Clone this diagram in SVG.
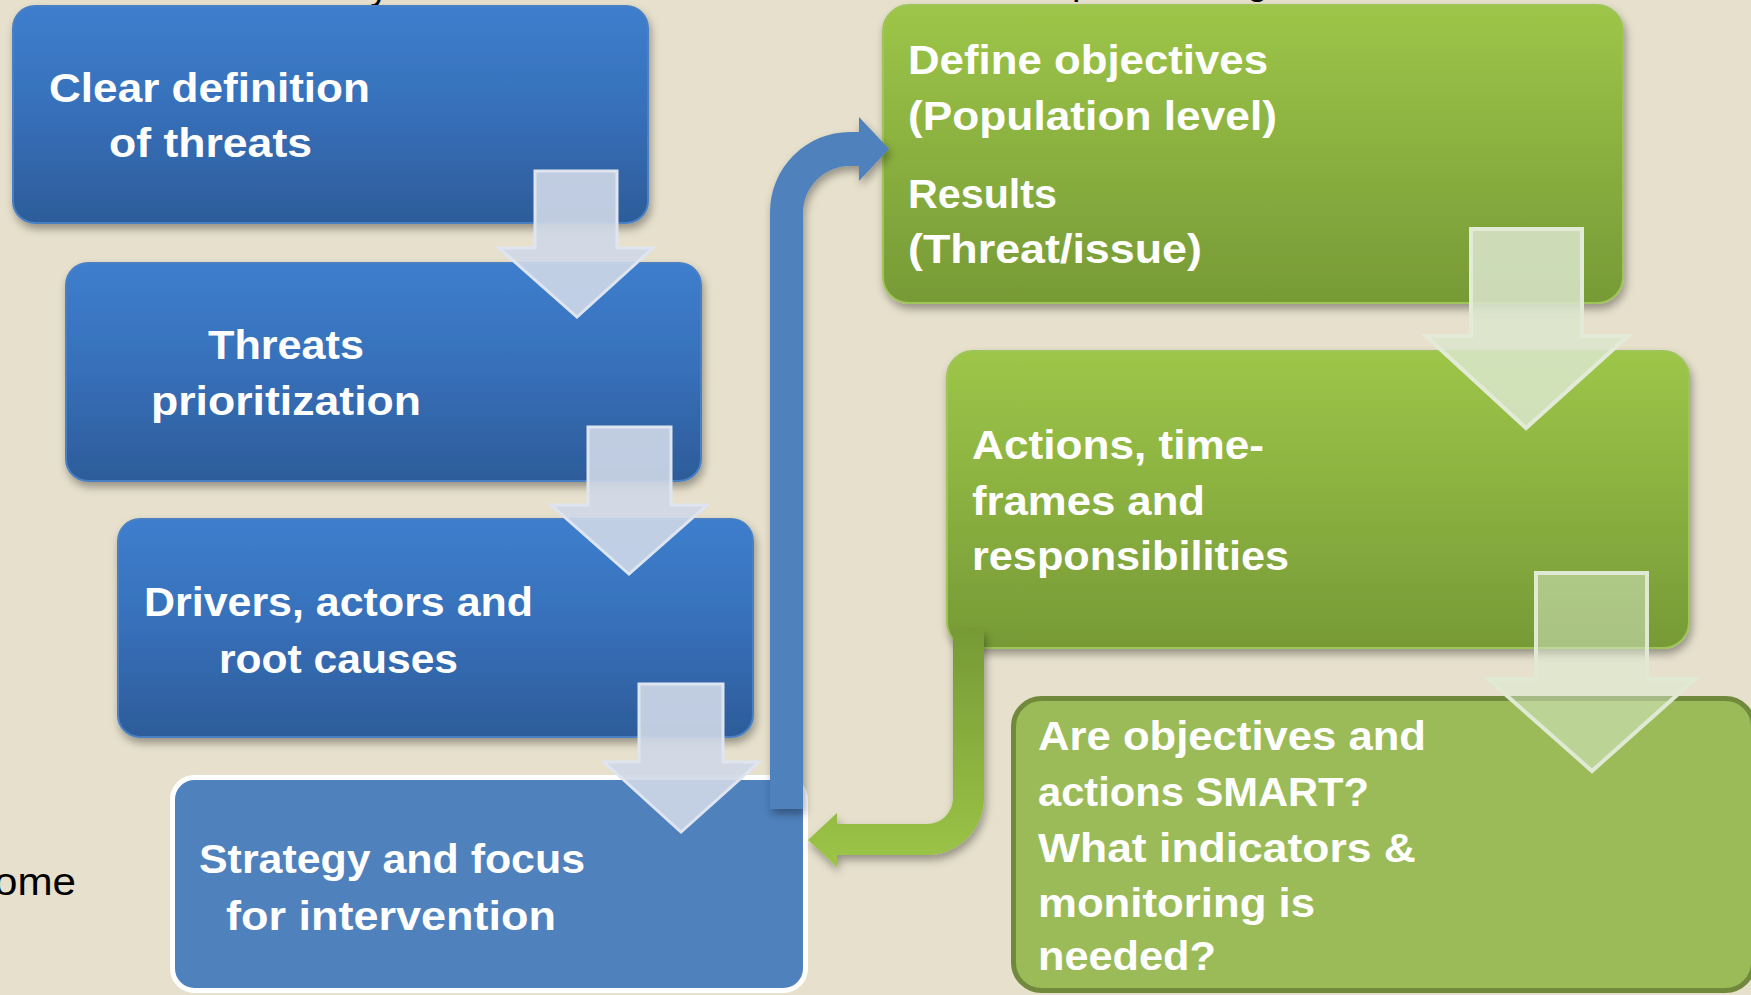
<svg xmlns="http://www.w3.org/2000/svg" width="1751" height="995" viewBox="0 0 1751 995">
<defs>
<linearGradient id="gBlue" x1="0" y1="0" x2="0" y2="1">
<stop offset="0" stop-color="#3d7ecd"/><stop offset="0.45" stop-color="#3871bb"/><stop offset="1" stop-color="#2d5c9a"/>
</linearGradient>
<linearGradient id="gGreen" x1="0" y1="0" x2="0" y2="1">
<stop offset="0" stop-color="#9dc648"/><stop offset="0.45" stop-color="#8cb241"/><stop offset="1" stop-color="#779a36"/>
</linearGradient>
<linearGradient id="gGreenBar" x1="0" y1="0" x2="0" y2="1">
<stop offset="0" stop-color="#779a36"/><stop offset="1" stop-color="#9cc547"/>
</linearGradient>
<filter id="sh" x="-10%" y="-10%" width="125%" height="130%">
<feDropShadow dx="2" dy="5" stdDeviation="4" flood-color="#000" flood-opacity="0.35"/>
</filter>
</defs>
<style>
.bg{fill:#e6e0cc}
.bbox{fill:url(#gBlue);stroke:#4a80c4;stroke-width:2;filter:url(#sh)}
.gbox{fill:url(#gGreen);stroke:#9fc458;stroke-width:2;filter:url(#sh)}
.t{font-family:"Liberation Sans",Arial,sans-serif;font-weight:bold;font-size:40px;fill:#fff}
.k{font-family:"Liberation Sans",Arial,sans-serif;font-size:38px;fill:#000}
.ba{fill:#cfd8e8;fill-opacity:0.9;stroke:#dfe5f0;stroke-width:3}
.gaD{fill:#dae6cd;fill-opacity:0.85;stroke:#e3ebd8;stroke-width:4}
.gaE{fill:#dbeccf;fill-opacity:0.5;stroke:#e0e9d3;stroke-width:4}
</style>
<rect class="bg" x="0" y="0" width="1751" height="995"/>
<text class="k" x="370" y="-1.5">y</text>
<text class="k" x="1072" y="-6">p</text>
<text class="k" x="1247" y="-6">g</text>
<text class="k" x="76" y="895" text-anchor="end" textLength="82" lengthAdjust="spacingAndGlyphs">ome</text>
<g id="node-clear-definition">
<rect class="bbox" x="13" y="6" width="635" height="217" rx="22"/>
<text class="t" x="49" y="102" textLength="321" lengthAdjust="spacingAndGlyphs">Clear definition</text>
<text class="t" x="109" y="157" textLength="203" lengthAdjust="spacingAndGlyphs">of threats</text>
</g>
<g id="node-threats-prioritization">
<rect class="bbox" x="66" y="263" width="635" height="218" rx="22"/>
<text class="t" x="208" y="359" textLength="156" lengthAdjust="spacingAndGlyphs">Threats</text>
<text class="t" x="151" y="415" textLength="270" lengthAdjust="spacingAndGlyphs">prioritization</text>
</g>
<g id="node-drivers">
<rect class="bbox" x="118" y="519" width="635" height="218" rx="22"/>
<text class="t" x="144" y="616" textLength="389" lengthAdjust="spacingAndGlyphs">Drivers, actors and</text>
<text class="t" x="219" y="673" textLength="239" lengthAdjust="spacingAndGlyphs">root causes</text>
</g>
<g id="node-strategy">
<rect x="172.5" y="777.5" width="633" height="213" rx="22" fill="#4f81bd" stroke="#ffffff" stroke-width="5"/>
<text class="t" x="199" y="873" textLength="386" lengthAdjust="spacingAndGlyphs">Strategy and focus</text>
<text class="t" x="226" y="930" textLength="330" lengthAdjust="spacingAndGlyphs">for intervention</text>
</g>
<g id="node-define-objectives">
<rect class="gbox" x="883" y="5" width="740" height="298" rx="26"/>
<text class="t" x="908" y="74" textLength="360" lengthAdjust="spacingAndGlyphs">Define objectives</text>
<text class="t" x="908" y="130" textLength="369" lengthAdjust="spacingAndGlyphs">(Population level)</text>
<text class="t" x="908" y="208" textLength="149" lengthAdjust="spacingAndGlyphs">Results</text>
<text class="t" x="908" y="263" textLength="294" lengthAdjust="spacingAndGlyphs">(Threat/issue)</text>
</g>
<g id="node-actions">
<rect class="gbox" x="947" y="351" width="742" height="297" rx="26"/>
<text class="t" x="972" y="459" textLength="292" lengthAdjust="spacingAndGlyphs">Actions, time-</text>
<text class="t" x="972" y="515" textLength="233" lengthAdjust="spacingAndGlyphs">frames and</text>
<text class="t" x="972" y="570" textLength="317" lengthAdjust="spacingAndGlyphs">responsibilities</text>
</g>
<g id="node-smart">
<rect x="1013.5" y="698.5" width="740" height="292" rx="28" fill="#9bbb59" stroke="#71893d" stroke-width="5"/>
<text class="t" x="1038" y="750" textLength="388" lengthAdjust="spacingAndGlyphs">Are objectives and</text>
<text class="t" x="1038" y="806" textLength="331" lengthAdjust="spacingAndGlyphs">actions SMART?</text>
<text class="t" x="1038" y="862" textLength="378" lengthAdjust="spacingAndGlyphs">What indicators &amp;</text>
<text class="t" x="1038" y="917" textLength="277" lengthAdjust="spacingAndGlyphs">monitoring is</text>
<text class="t" x="1038" y="970" textLength="178" lengthAdjust="spacingAndGlyphs">needed?</text>
</g>
<g id="connectors">
<path class="ba" d="M535 171 H617 V248 H653 L577 317 L499 248 H535 Z"/>
<path class="ba" d="M588 427 H671 V505 H707 L629 574 L551 505 H588 Z"/>
<path class="ba" d="M639 684 H723 V762 H759 L681 832 L604 762 H639 Z"/>
<path d="M770 809 L770 212 A80 80 0 0 1 850 132 L859 132 L859 117 L889 149 L859 181 L859 166 L850 166 A47 47 0 0 0 803 212 L803 809 Z" fill="#4f81bd" filter="url(#sh)"/>
<path d="M953 630 L984 630 L984 798 A57 57 0 0 1 927 855 L837 855 L837 867 L808 840 L837 813 L837 824 L927 824 A26 26 0 0 0 953 798 Z" fill="url(#gGreenBar)" filter="url(#sh)"/>
<path class="gaD" d="M1471 229 H1582 V336 H1628 L1526 428 L1426 336 H1471 Z"/>
<path class="gaE" d="M1536 573 H1647 V679 H1695 L1592 771 L1488 679 H1536 Z"/>
</g>
</svg>
